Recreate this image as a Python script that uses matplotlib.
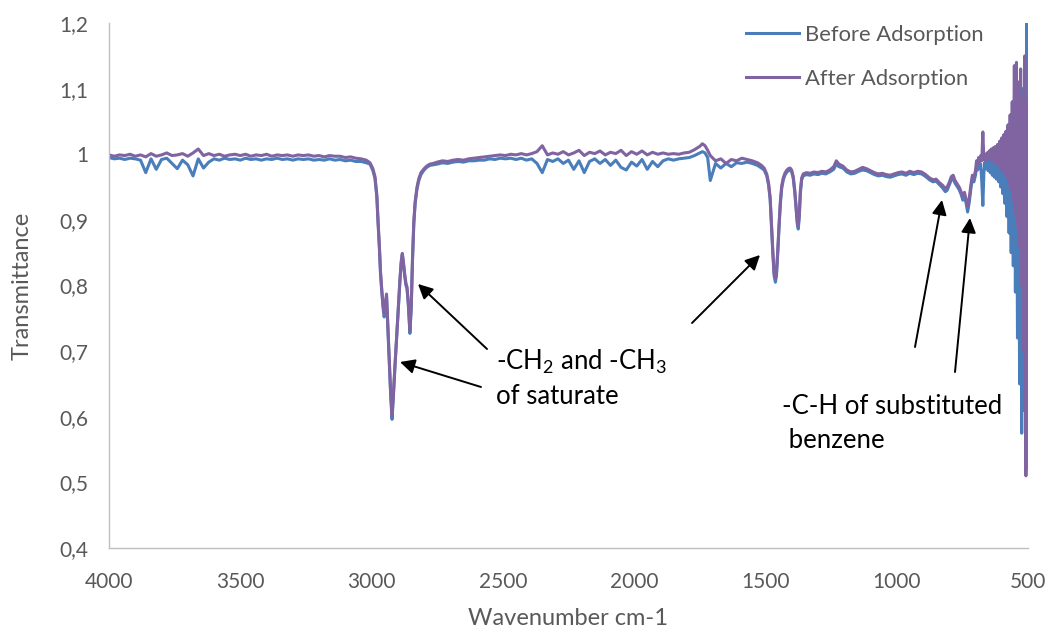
import matplotlib
matplotlib.use("Agg")
import matplotlib.pyplot as plt
from matplotlib.ticker import FuncFormatter

# ---------------- data ----------------
wn_a = [4000, 3980, 3960, 3940, 3920, 3900, 3880, 3860, 3840, 3820, 3800, 3780, 3760, 3740, 3720,
        3700, 3680, 3660, 3640, 3620, 3600, 3580, 3560, 3540, 3520, 3500, 3480, 3460, 3440, 3420,
        3400, 3380, 3360, 3340, 3320, 3300, 3280, 3260, 3240, 3220, 3200, 3180, 3160, 3140, 3120,
        3100, 3080, 3060, 3040, 3020]
before_a = [0.995, 0.993, 0.994, 0.992, 0.994, 0.993, 0.991, 0.972, 0.993, 0.977, 0.992, 0.994, 0.986, 0.978, 0.991,
            0.984, 0.967, 0.993, 0.979, 0.988, 0.993, 0.991, 0.994, 0.992, 0.993, 0.991, 0.994, 0.992, 0.993, 0.991,
            0.993, 0.992, 0.994, 0.992, 0.993, 0.991, 0.993, 0.992, 0.993, 0.991, 0.992, 0.991, 0.993, 0.991, 0.992,
            0.990, 0.991, 0.989, 0.989, 0.987]
after_a = [0.999, 0.997, 0.999, 0.998, 1.000, 0.997, 0.999, 0.996, 1.001, 0.997, 0.999, 1.002, 0.998, 0.999, 1.001,
           0.997, 1.002, 1.008, 0.998, 1.001, 0.998, 1.000, 0.997, 0.999, 1.000, 0.998, 1.000, 0.997, 0.999, 0.998,
           1.000, 0.997, 0.999, 0.998, 0.999, 0.997, 0.999, 0.998, 0.999, 0.997, 0.998, 0.996, 0.998, 0.997, 0.997,
           0.995, 0.996, 0.994, 0.993, 0.991]

wn_b = [3006, 2995, 2987, 2980, 2975, 2970, 2966, 2961, 2956, 2952, 2947, 2943, 2939, 2933, 2927,
        2922, 2917, 2911, 2905, 2898, 2892, 2887, 2883, 2879, 2874, 2869, 2865, 2860, 2854, 2849,
        2844, 2839, 2834, 2827, 2820, 2812, 2800, 2790, 2778, 2765]
before_b = [0.985, 0.975, 0.963, 0.935, 0.893, 0.855, 0.818, 0.790, 0.765, 0.752, 0.770, 0.783, 0.745, 0.690, 0.630,
            0.596, 0.630, 0.675, 0.716, 0.765, 0.807, 0.835, 0.847, 0.835, 0.815, 0.800, 0.795, 0.770, 0.727, 0.765,
            0.840, 0.895, 0.925, 0.947, 0.960, 0.969, 0.976, 0.980, 0.983, 0.984]
after_b = [0.987, 0.978, 0.966, 0.938, 0.896, 0.858, 0.821, 0.793, 0.769, 0.758, 0.775, 0.787, 0.748, 0.692, 0.634,
           0.602, 0.634, 0.678, 0.718, 0.767, 0.809, 0.837, 0.849, 0.837, 0.818, 0.803, 0.798, 0.773, 0.731, 0.768,
           0.843, 0.898, 0.928, 0.950, 0.963, 0.972, 0.978, 0.982, 0.985, 0.986]

wn_c = [2750, 2730, 2710, 2690, 2670, 2650, 2630, 2610, 2590, 2570, 2550, 2530, 2510, 2490, 2470,
        2450, 2430, 2410, 2390, 2370, 2350, 2330, 2310, 2290, 2270, 2250, 2230, 2210, 2190, 2170,
        2150, 2130, 2110, 2090, 2070, 2050, 2030, 2010, 1990, 1970, 1950, 1930, 1910, 1890, 1870,
        1850, 1830, 1810, 1790, 1770, 1750, 1740, 1730, 1720, 1710, 1690, 1670, 1650, 1630, 1610,
        1590, 1570, 1550, 1530]
before_c = [0.985, 0.987, 0.986, 0.988, 0.989, 0.988, 0.990, 0.990, 0.991, 0.991, 0.993, 0.992, 0.994, 0.993, 0.994,
            0.992, 0.994, 0.991, 0.993, 0.986, 0.972, 0.992, 0.989, 0.993, 0.986, 0.991, 0.977, 0.990, 0.972, 0.989,
            0.993, 0.986, 0.992, 0.983, 0.991, 0.980, 0.976, 0.988, 0.982, 0.992, 0.977, 0.989, 0.981, 0.990, 0.993,
            0.991, 0.993, 0.994, 0.995, 0.998, 1.002, 1.004, 1.002, 0.995, 0.960, 0.986, 0.979, 0.986, 0.981, 0.987,
            0.986, 0.988, 0.986, 0.983]
after_c = [0.988, 0.990, 0.989, 0.991, 0.992, 0.991, 0.993, 0.994, 0.995, 0.996, 0.997, 0.998, 0.999, 0.998, 1.000,
           0.999, 1.001, 0.999, 1.001, 1.004, 1.013, 0.999, 1.002, 1.000, 1.004, 0.999, 1.002, 1.006, 0.998, 1.003,
           1.001, 1.005, 0.999, 1.003, 1.001, 1.006, 0.998, 1.004, 1.000, 1.005, 0.999, 1.003, 1.000, 1.002, 1.000,
           1.001, 1.000, 1.002, 1.003, 1.007, 1.012, 1.016, 1.013, 1.006, 0.998, 0.990, 0.993, 0.986, 0.992, 0.990,
           0.994, 0.992, 0.990, 0.987]

wn_d = [1515, 1505, 1495, 1488, 1482, 1477, 1472, 1467, 1462, 1458, 1453, 1448, 1443, 1438, 1432,
        1426, 1420, 1413, 1406, 1400, 1394, 1388, 1383, 1379, 1375, 1371, 1367, 1362, 1356, 1350, 1344]
before_d = [0.979, 0.976, 0.967, 0.953, 0.931, 0.890, 0.850, 0.815, 0.805, 0.815, 0.850, 0.890, 0.925, 0.948, 0.961,
            0.968, 0.972, 0.975, 0.976, 0.973, 0.963, 0.941, 0.915, 0.895, 0.886, 0.905, 0.940, 0.961, 0.967, 0.968, 0.969]
after_d = [0.983, 0.979, 0.970, 0.956, 0.934, 0.894, 0.854, 0.819, 0.810, 0.819, 0.854, 0.894, 0.929, 0.952, 0.964,
           0.971, 0.975, 0.978, 0.979, 0.976, 0.966, 0.944, 0.919, 0.899, 0.890, 0.909, 0.944, 0.964, 0.970, 0.971, 0.972]

wn_e = [1330, 1315, 1300, 1285, 1270, 1255, 1240, 1230, 1220, 1205, 1190, 1175, 1160, 1145, 1130,
        1115, 1100, 1085, 1070, 1055, 1040, 1025, 1010, 995, 980, 965, 950, 935, 920, 905,
        890, 875, 862, 850, 838, 826, 815, 808, 800, 792, 785, 778, 770, 762, 755,
        748, 742, 736, 730, 724, 718, 712, 706]
before_e = [0.968, 0.970, 0.969, 0.971, 0.970, 0.973, 0.977, 0.985, 0.981, 0.979, 0.973, 0.970, 0.971, 0.974, 0.976,
            0.975, 0.972, 0.969, 0.967, 0.968, 0.966, 0.965, 0.967, 0.969, 0.970, 0.968, 0.971, 0.969, 0.971, 0.970,
            0.966, 0.961, 0.958, 0.959, 0.954, 0.949, 0.943, 0.945, 0.953, 0.961, 0.963, 0.956, 0.951, 0.946, 0.939,
            0.930, 0.936, 0.926, 0.912, 0.926, 0.946, 0.963, 0.958]
after_e = [0.971, 0.973, 0.972, 0.974, 0.973, 0.976, 0.981, 0.990, 0.985, 0.982, 0.976, 0.973, 0.974, 0.977, 0.980,
           0.978, 0.975, 0.972, 0.970, 0.971, 0.969, 0.968, 0.970, 0.972, 0.973, 0.971, 0.974, 0.972, 0.974, 0.973,
           0.969, 0.964, 0.961, 0.962, 0.957, 0.953, 0.948, 0.950, 0.957, 0.966, 0.968, 0.960, 0.955, 0.950, 0.943,
           0.936, 0.942, 0.932, 0.920, 0.932, 0.952, 0.968, 0.965]

wn_f = [700, 696, 692, 688, 684, 680, 676, 672, 668, 664, 660, 656, 652, 648, 644, 640, 636,
        632, 628, 624, 620, 616, 612, 608, 604, 600, 596, 592, 588, 584, 580, 576, 572, 568,
        564, 560, 556, 552, 548, 544, 540, 536, 532, 528, 524, 520, 516, 512, 508, 504, 500]
before_f = [0.968, 0.982, 0.976, 0.986, 0.978, 0.985, 0.958, 0.922, 0.972, 0.988, 0.978, 0.990, 0.975, 0.992, 0.972,
            0.995, 0.968, 0.998, 0.965, 1.000, 0.962, 1.002, 0.958, 1.005, 0.950, 1.008, 0.940, 1.010, 0.925, 1.015,
            0.905, 1.020, 0.880, 1.030, 0.850, 1.040, 0.830, 1.060, 0.790, 1.080, 0.720, 1.060, 0.650, 1.090, 0.575,
            1.100, 0.610, 1.130, 0.520, 1.210, 0.700]
after_f = [0.975, 0.990, 0.985, 0.995, 0.988, 0.998, 0.990, 1.034, 0.992, 1.000, 0.990, 1.002, 0.994, 1.005, 0.992,
           1.008, 0.990, 1.010, 0.988, 1.012, 0.985, 1.015, 0.982, 1.020, 0.978, 1.025, 0.975, 1.030, 0.970, 1.035,
           0.965, 1.045, 0.955, 1.060, 0.945, 1.080, 0.930, 1.135, 0.910, 1.140, 0.890, 1.110, 0.860, 1.130, 0.800,
           1.090, 0.700, 1.150, 0.510, 1.080, 0.900]

wavenumber = wn_a + wn_b + wn_c + wn_d + wn_e + wn_f
before = before_a + before_b + before_c + before_d + before_e + before_f
after = after_a + after_b + after_c + after_d + after_e + after_f

series_labels = ["Before Adsorption", "After Adsorption"]
x_ticks = [4000, 3500, 3000, 2500, 2000, 1500, 1000, 500]
y_ticks = [0.4, 0.5, 0.6, 0.7, 0.8, 0.9, 1.0, 1.1, 1.2]

# ---------------- styling ----------------
FONT = "Lato"
plt.rcParams["font.family"] = [FONT, "DejaVu Sans"]
plt.rcParams["mathtext.fontset"] = "custom"
plt.rcParams["mathtext.rm"] = FONT
plt.rcParams["mathtext.it"] = FONT
plt.rcParams["mathtext.bf"] = FONT

W, H = 1048, 631
fig = plt.figure(figsize=(W / 100, H / 100), dpi=100)
ax = fig.add_axes([109 / W, 1 - 548 / H, (1028 - 109) / W, (548 - 23) / H])

c_before = "#4A7EBB"
c_after = "#8064A2"
ax.plot(wavenumber, before, color=c_before, lw=2.2, label=series_labels[0], solid_joinstyle="round")
ax.plot(wavenumber, after, color=c_after, lw=2.2, label=series_labels[1], solid_joinstyle="round")

ax.set_xlim(4000, 500)
ax.set_ylim(0.4, 1.2)
ax.set_xticks(x_ticks)
ax.set_yticks(y_ticks)

def comma_fmt(v, pos):
    s = ("%.1f" % v)
    if s.endswith(".0"):
        s = s[:-2]
    return s.replace(".", ",")

ax.yaxis.set_major_formatter(FuncFormatter(comma_fmt))
ax.xaxis.set_major_formatter(FuncFormatter(lambda v, p: "%d" % v))

grey = "#595959"
ax.tick_params(axis="both", length=0, labelsize=15, colors=grey)
ax.tick_params(axis="x", pad=17)
ax.tick_params(axis="y", pad=15)
for s in ["top", "right"]:
    ax.spines[s].set_visible(False)
for s in ["left", "bottom"]:
    ax.spines[s].set_color("#BFBFBF")
    ax.spines[s].set_linewidth(1.0)

ax.set_xlabel("Wavenumber cm-1", fontsize=17, color=grey, labelpad=12)
ax.set_ylabel("Transmittance", fontsize=17, color=grey, labelpad=19)

leg = ax.legend(loc="upper left", bbox_to_anchor=(746 / W, 1 - 25 / H),
                bbox_transform=fig.transFigure, frameon=False, fontsize=15.8,
                handlelength=2.4, handletextpad=0.3, labelspacing=1.08,
                borderpad=0, borderaxespad=0)
for t in leg.get_texts():
    t.set_color(grey)

def fp(x, y):
    return (x, H - y)

arrow = dict(arrowstyle="-|>", color="black", lw=1.4, mutation_scale=22, shrinkA=0, shrinkB=0)
for tail, tip in [((487, 349), (418, 284)), ((481, 387), (400, 362)),
                  ((692, 323), (760, 255)), ((915, 347), (942, 200)),
                  ((955, 372), (970, 218))]:
    ax.annotate("", xy=fp(*tip), xycoords="figure pixels",
                xytext=fp(*tail), textcoords="figure pixels", arrowprops=arrow)

ann_fs = 18.5
fig.text(496 / W, 1 - 362 / H, "-CH$_2$ and -CH$_3$", fontsize=ann_fs, color="black", va="center", ha="left")
fig.text(496 / W, 1 - 397 / H, "of saturate", fontsize=ann_fs, color="black", va="center", ha="left")
fig.text(782 / W, 1 - 407 / H, "-C-H of substituted", fontsize=ann_fs, color="black", va="center", ha="left")
fig.text(782 / W, 1 - 440 / H, " benzene", fontsize=ann_fs, color="black", va="center", ha="left")

fig.savefig("out.png", dpi=100)
